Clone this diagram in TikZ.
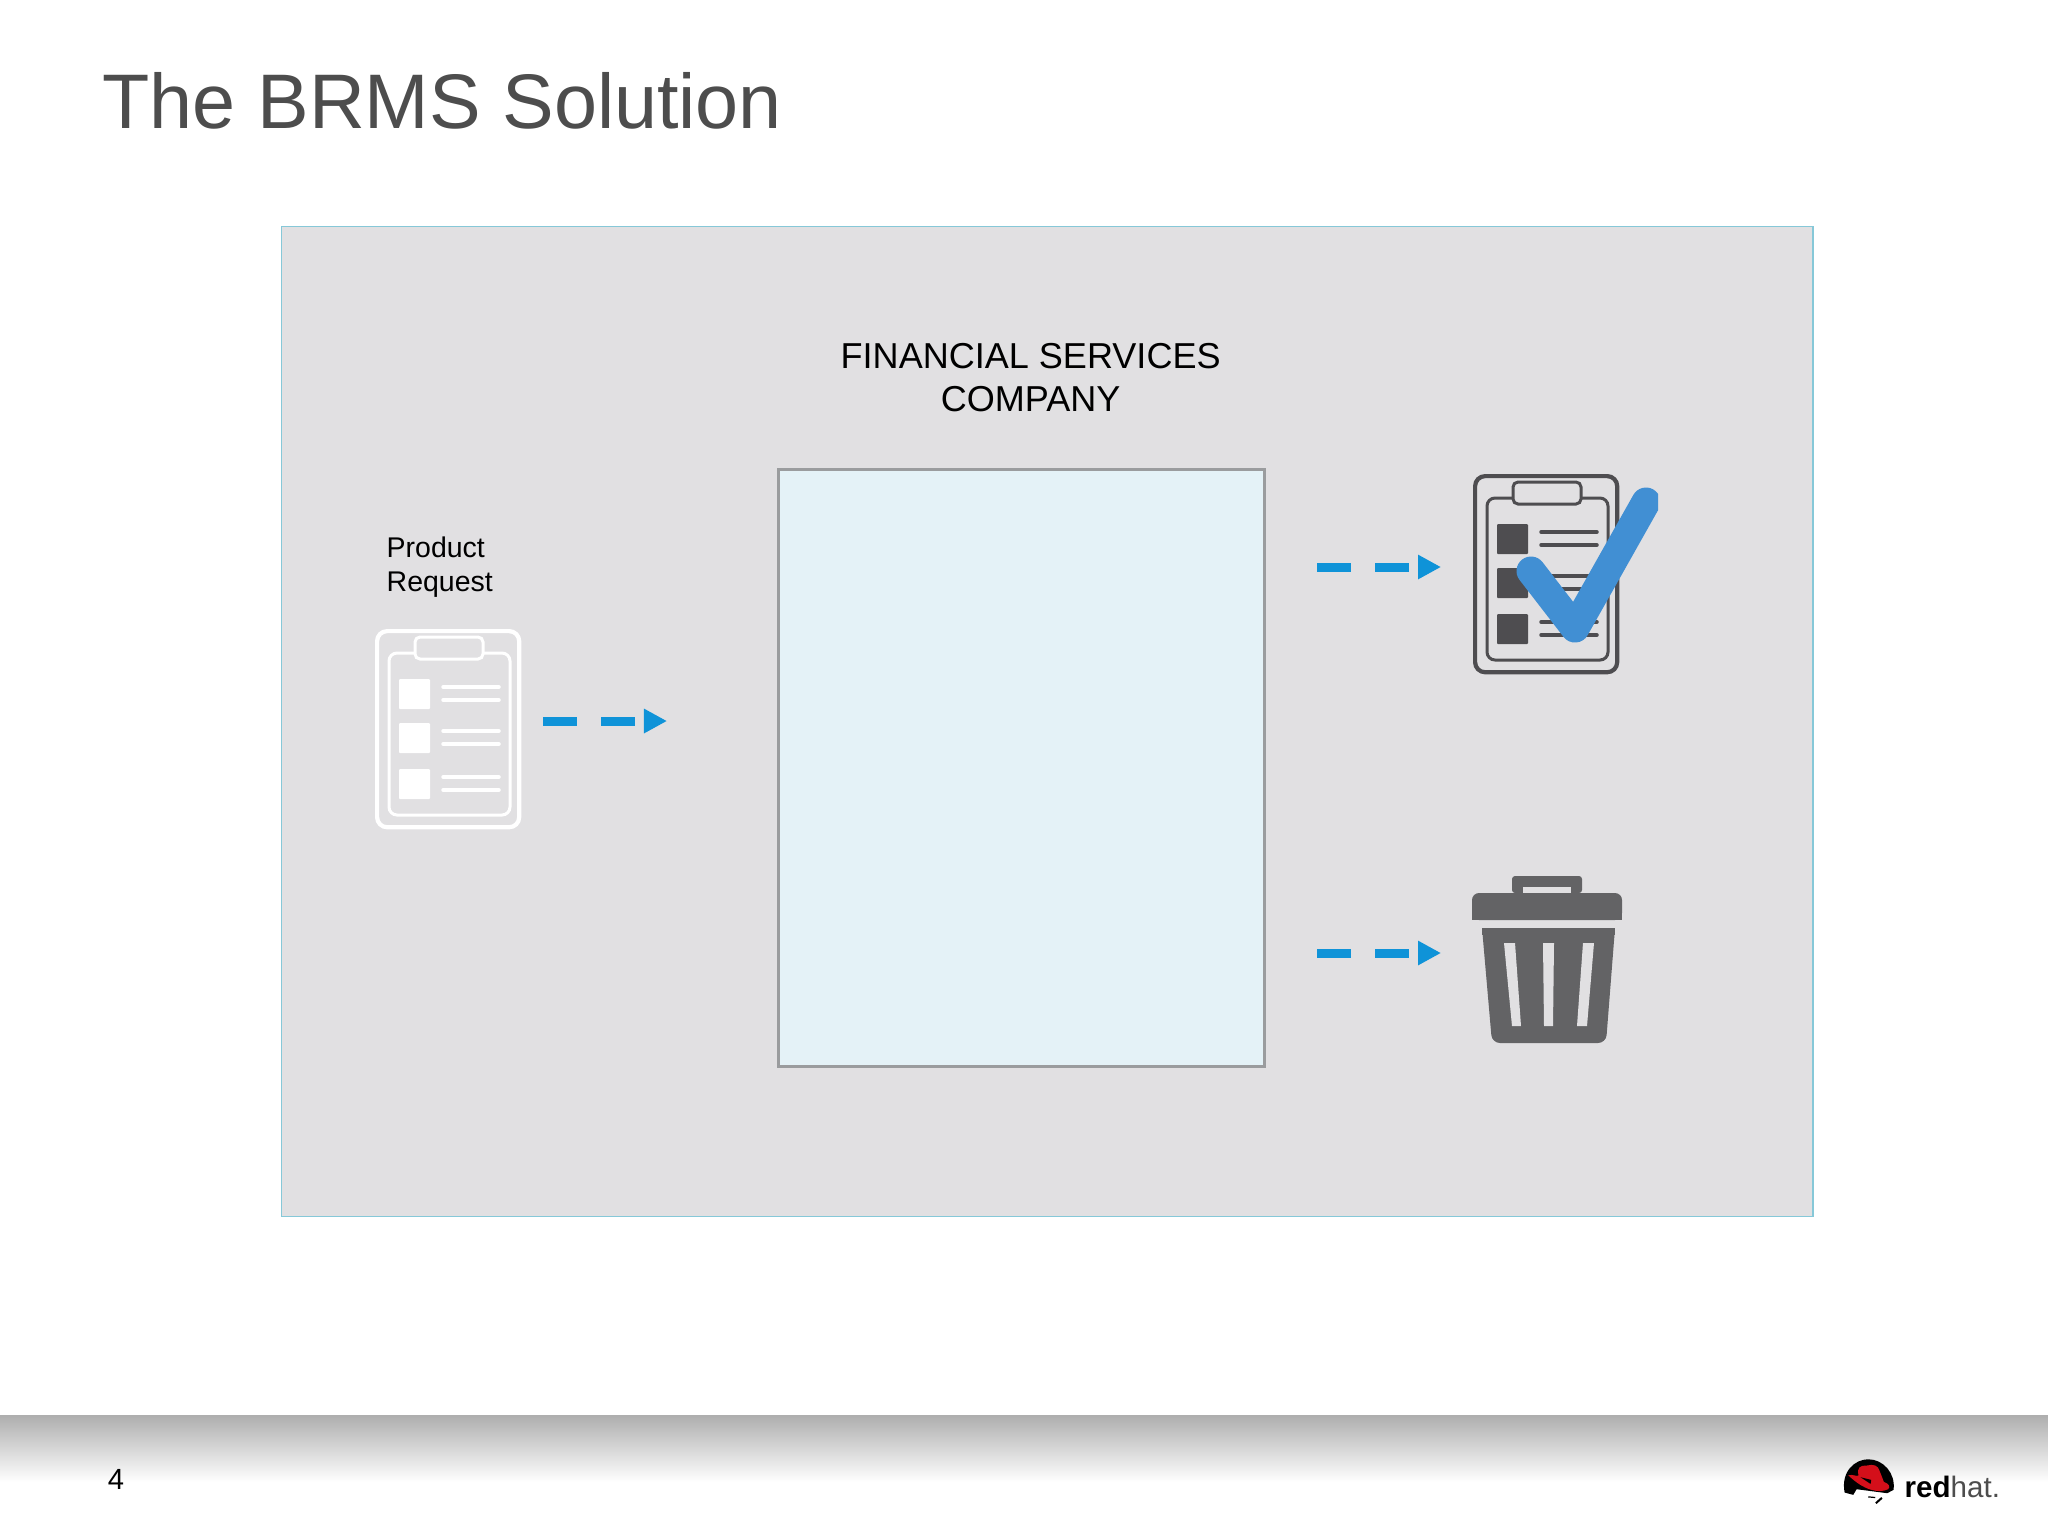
\documentclass[tikz,border=0pt]{standalone}
\usepackage{fontspec}
\setmainfont{Liberation Sans}
\usepackage{xcolor}
\usetikzlibrary{positioning, arrows.meta}

\definecolor{panelgray}{HTML}{E1E0E2}
\definecolor{panelline}{HTML}{86C8D8}
\definecolor{boxblue}{HTML}{E4F2F7}
\definecolor{boxline}{HTML}{9A9C9E}
\definecolor{flowblue}{HTML}{0F93D8}
\definecolor{iconink}{HTML}{4E4D50}
\definecolor{binink}{HTML}{636365}
\definecolor{tickblue}{HTML}{418FD3}
\definecolor{titleink}{HTML}{4D4D4D}
\definecolor{footgray}{HTML}{AEAEAE}
\definecolor{hatred}{HTML}{D40F1A}

\tikzset{
	flowarrow/.style={draw=flowblue, line width=0.09cm, dash pattern=on 0.34cm off 0.24cm,
		-{Triangle[length=0.23cm, width=0.23cm]}},
	smalltext/.style={inner sep=0pt, align=left, font=\fontsize{8.1}{9.7}\selectfont},
}

% one clipboard, #1 = node name, #2 = left edge, #3 = top edge, #4 = ink colour
\newcommand{\clipicon}[4]{
	\node (#1) [draw=#4, line width=0.042cm, rounded corners=0.1cm, minimum width=1.42cm, minimum height=1.96cm, anchor=north west, inner sep=0pt] at (#2,#3) {};
	\begin{scope}[shift={(#2,#3)}]
		\draw[#4, line width=0.03cm, rounded corners=0.08cm] (14,24) rectangle (135,186);
		\draw[#4, fill=panelgray, line width=0.03cm, rounded corners=0.05cm] (40,8) rectangle (108,30);
		\foreach \i in {50, 94, 140} {
			\fill[#4, rounded corners=0.01cm] (24,\i) rectangle (55,\i+30);
			\draw[#4, line width=0.035cm, line cap=round] (68,\i+8) -- (124,\i+8);
			\draw[#4, line width=0.035cm, line cap=round] (68,\i+21) -- (124,\i+21);
		}
	\end{scope}
}

\begin{document}
\begin{tikzpicture}[x=0.01cm, y=-0.01cm]
	\useasboundingbox (0,0) rectangle (2048,1535);
	\fill[white] (0,0) rectangle (2048,1535);

	% Footer band
	\fill[top color=footgray, bottom color=white] (0,1415) rectangle (2048,1482);

	% Nodes
	\node (title) [anchor=base west, inner sep=0pt, text=titleink, font=\fontsize{22}{26}\selectfont] at (102,128) {The BRMS Solution};
	\node (panel) [draw=panelline, fill=panelgray, line width=0.012cm, minimum width=15.31cm, minimum height=9.89cm, anchor=north west, inner sep=0pt] at (280.5,226) {};
	\node (riskbox) [draw=boxline, fill=boxblue, line width=0.03cm, minimum width=4.86cm, minimum height=5.97cm, anchor=north west, inner sep=0pt] at (777,467.5) {};
	\node (company) [above=0.55cm of riskbox, xshift=0.09cm, inner sep=0pt, align=center, font=\fontsize{10.25}{12.3}\selectfont] {FINANCIAL SERVICES\\COMPANY};

	\clipicon{reqicon}{375}{629}{white}
	\node (reqlabel) [above=0.31cm of reqicon.north west, xshift=0.11cm, anchor=south west, smalltext] {Product\\Request};
	\clipicon{okicon}{1473}{474}{iconink}

	% Tick over the dark clipboard
	\begin{scope}
		\clip (1500,470) rectangle (1658,660);
		\draw[tickblue, line width=0.29cm, line cap=round, line join=round] (1531,571) -- (1575,628) -- (1646,502);
	\end{scope}

	% Bin
	\fill[binink, rounded corners=0.03cm] (1512,893) -- (1512,876) -- (1582,876) -- (1582,893) -- cycle;
	\fill[panelgray] (1523,887) rectangle (1571,893);
	\fill[binink, rounded corners=0.07cm] (1472,920) -- (1472,893) -- (1622,893) -- (1622,920) -- cycle;
	\fill[binink] (1472,910) rectangle (1622,920);
	\node (binicon) [minimum width=1.5cm, minimum height=1.67cm, anchor=north west, inner sep=0pt] at (1472,876) {};
	\fill[binink, rounded corners=0.08cm] (1482,928) -- (1492,1043) -- (1606,1043) -- (1615,928) -- cycle;
	\fill[binink] (1482,928) rectangle (1615,935);
	\fill[panelgray] (1504,943) -- (1515,943) -- (1521,1026) -- (1512,1026) -- cycle;
	\fill[panelgray] (1543,943) -- (1554,943) -- (1553,1026) -- (1544,1026) -- cycle;
	\fill[panelgray] (1583,943) -- (1594,943) -- (1587,1026) -- (1577,1026) -- cycle;

	\node (pageno) [inner sep=0pt, font=\fontsize{8.3}{10}\selectfont] at (116,1479) {4};

	% Logo
	\begin{scope}[shift={(1800,1400)}, x=0.00333cm, y=-0.00333cm]
		\fill[black] (134,278) .. controls (122,215) and (165,178) .. (205,178) .. controls (250,178) and (288,220) .. (281,270) -- (262,280) -- (170,268) -- (160,285) -- cycle;
		\fill[hatred] (145,226) .. controls (160,222) and (172,232) .. (176,226) .. controls (170,205) and (180,195) .. (200,197) .. controls (220,192) and (235,195) .. (240,215) -- (252,246) .. controls (268,252) and (272,260) .. (265,268) .. controls (235,282) and (190,270) .. (145,226) -- cycle;
		\fill[black] (182,232) -- (214,240) -- (212,252) -- cycle;
		\draw[black, line width=0.02cm] (228,310) -- (246,294);
		\draw[black, line width=0.012cm] (205,291) -- (226,293);
	\end{scope}
	\node (logotext) [anchor=base west, inner sep=0pt, font=\fontsize{8.4}{10}\selectfont] at (1904,1497) {\textbf{red}\textcolor{titleink}{hat.}};

	% Edges
	\coordinate (reqtail) at (543,721);
	\coordinate (reqhead) at (667,721);
	\coordinate (oktail) at (1317,567);
	\coordinate (okhead) at (1441,567);
	\coordinate (bintail) at (1317,953);
	\coordinate (binhead) at (1441,953);
	\draw[flowarrow] (reqtail) -- (reqhead);
	\draw[flowarrow] (oktail) -- (okhead);
	\draw[flowarrow] (bintail) -- (binhead);
\end{tikzpicture}
\end{document}
